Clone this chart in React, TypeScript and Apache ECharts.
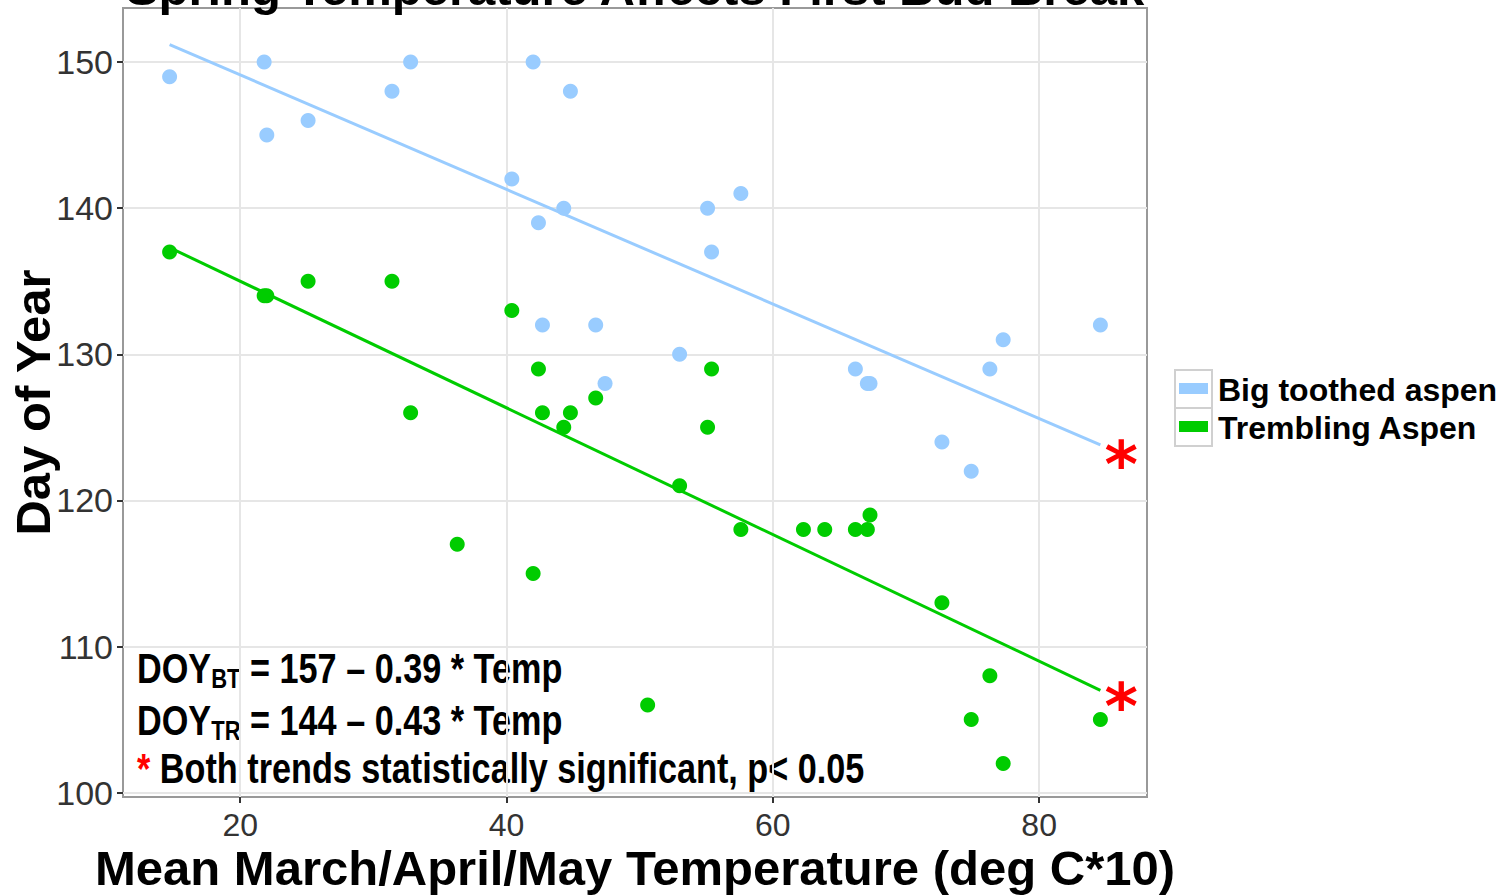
import React, { useEffect, useRef } from 'react';
import * as echarts from 'echarts';

const TITLE = 'Spring Temperature Affects First Bud Break';
const X_NAME = 'Mean March/April/May Temperature (deg C*10)';
const Y_NAME = 'Day of Year';
const SERIES_NAMES = ['Big toothed aspen', 'Trembling Aspen'];
const COLORS = ['#99CCFF', '#00CC00'];
const X_TICKS = [20, 40, 60, 80];
const Y_TICKS = [100, 110, 120, 130, 140, 150];

const bigX = [14.7, 21.8, 22.0, 25.1, 31.4, 32.8, 40.4, 42.0, 42.4, 42.7, 44.3, 44.8, 46.7, 47.4, 53.0, 55.1, 55.4, 57.6, 66.2, 67.1, 67.3, 72.7, 74.9, 76.3, 77.3, 84.6];
const bigY = [149, 150, 145, 146, 148, 150, 142, 150, 139, 132, 140, 148, 132, 128, 130, 140, 137, 141, 129, 128, 128, 124, 122, 129, 131, 132];
const trX = [14.7, 21.8, 22.0, 25.1, 31.4, 32.8, 36.3, 40.4, 42.0, 42.4, 42.7, 44.3, 44.8, 46.7, 50.6, 53.0, 55.1, 55.4, 57.6, 62.3, 63.9, 66.2, 67.1, 67.3, 72.7, 74.9, 76.3, 77.3, 84.6];
const trY = [137, 134, 134, 135, 135, 126, 117, 133, 115, 129, 126, 125, 126, 127, 106, 121, 125, 129, 118, 118, 118, 118, 118, 119, 113, 105, 108, 102, 105];

const bigTrendX = [14.7, 84.6];
const bigTrendY = [151.2, 123.8];
const trTrendX = [14.7, 84.6];
const trTrendY = [137.3, 107.0];

const EQ_BT = ['DOY', 'BT', ' = 157 \u2013 0.39 * Temp'];
const EQ_TR = ['DOY', 'TR', ' = 144 \u2013 0.43 * Temp'];
const NOTE_STAR = '*';
const NOTE = ' Both trends statistically significant, p< 0.05';

const ANN_FAMILY = '"Liberation Sans", Arial, sans-serif';
const MAIN_FAMILY = '"Liberation Sans", Arial, sans-serif';

function measure(text: string, font: string): number {
  const ctx = document.createElement('canvas').getContext('2d');
  if (!ctx) return text.length * 20;
  ctx.font = font;
  return ctx.measureText(text).width;
}

function zip(xs: number[], ys: number[]) {
  return xs.map((x, i) => [x, ys[i]]);
}

const MAIN_SIZE = 42;
const SUB_SIZE = 27;
const mainFont = `bold ${MAIN_SIZE}px ${ANN_FAMILY}`;
const subFont = `bold ${SUB_SIZE}px ${ANN_FAMILY}`;

function txt(text: string, font: string, fill: string, x: number, y: number, sx: number) {
  return { type: 'text', x, y, scaleX: sx, style: { text, font, fill, verticalAlign: 'middle', align: 'left' } };
}

function equationLine(parts: string[], x0: number, yc: number, sx: number) {
  const w0 = measure(parts[0], mainFont) * sx;
  const w1 = measure(parts[1], subFont) * sx;
  return [
    txt(parts[0], mainFont, '#000', x0, yc, sx),
    txt(parts[1], subFont, '#000', x0 + w0, yc + 11, sx),
    txt(parts[2], mainFont, '#000', x0 + w0 + w1, yc, sx),
  ];
}

export default function App() {
  const ref = useRef<HTMLDivElement>(null);
  useEffect(() => {
    if (!ref.current) return;
    const chart = echarts.init(ref.current, null, { renderer: 'svg' });
    const noteW = measure(NOTE_STAR, mainFont) + measure(NOTE, mainFont);
    const sx = 728 / noteW;
    const starW = measure(NOTE_STAR, mainFont) * sx;
    const legendFont = `bold 32px ${MAIN_FAMILY}`;

    const graphics: any[] = [
      { type: 'text', x: 635, y: 12, style: { text: TITLE, font: `bold 49px ${MAIN_FAMILY}`, fill: '#000', align: 'center', verticalAlign: 'bottom' } },
      ...equationLine(EQ_BT, 137, 668, sx),
      ...equationLine(EQ_TR, 137, 720, sx),
      txt(NOTE_STAR, mainFont, '#FF0000', 137, 768, sx),
      txt(NOTE, mainFont, '#000', 137 + starW, 768, sx),
    ];
    SERIES_NAMES.forEach((name, i) => {
      const top = 370 + i * 38;
      graphics.push(
        { type: 'rect', shape: { x: 1175, y: top, width: 37, height: 38 }, style: { fill: '#fff', stroke: '#D0D0D0', lineWidth: 2 } },
        { type: 'rect', shape: { x: 1179, y: top + 13, width: 29, height: 11 }, style: { fill: COLORS[i] } },
        { type: 'text', x: 1218, y: top + 20, style: { text: name, font: legendFont, fill: '#000', verticalAlign: 'middle', align: 'left' } }
      );
    });

    const starLabel = (dy: number) => ({
      show: true,
      formatter: '*',
      color: '#FF0000',
      fontSize: 64,
      fontWeight: 'bold',
      fontFamily: '"DejaVu Sans", sans-serif',
      distance: 4,
      offset: [0, dy],
    });

    chart.setOption({
      animation: false,
      grid: { left: 123, top: 8, width: 1024, height: 789, outerBoundsMode: 'none', containLabel: false, show: true, borderColor: '#999999', borderWidth: 2, backgroundColor: '#fff' },
      xAxis: {
        type: 'value',
        min: 11.2,
        max: 88.1,
        axisLine: { show: false },
        axisTick: { show: true, length: 6, lineStyle: { color: '#333', width: 2 }, customValues: X_TICKS },
        axisLabel: { customValues: X_TICKS, color: '#333', fontSize: 32, lineHeight: 30, fontFamily: MAIN_FAMILY, margin: 13 },
        splitLine: { show: true, lineStyle: { color: '#E6E6E6', width: 2 } },
        name: X_NAME,
        nameLocation: 'middle',
        nameGap: 71,
        nameMoveOverlap: false,
        nameTextStyle: { fontSize: 49, lineHeight: 38, fontWeight: 'bold', color: '#000', fontFamily: MAIN_FAMILY, verticalAlign: 'middle' },
      },
      yAxis: {
        type: 'value',
        min: 99.7,
        max: 153.7,
        axisLine: { show: false },
        axisTick: { show: true, length: 6, lineStyle: { color: '#333', width: 2 }, customValues: Y_TICKS },
        axisLabel: { customValues: Y_TICKS, color: '#333', fontSize: 34, fontFamily: MAIN_FAMILY, margin: 10 },
        splitLine: { show: true, lineStyle: { color: '#E6E6E6', width: 2 } },
        name: Y_NAME,
        nameLocation: 'middle',
        nameGap: 90,
        nameMoveOverlap: false,
        nameRotate: 90,
        nameTextStyle: { fontSize: 49, fontWeight: 'bold', color: '#000', fontFamily: MAIN_FAMILY, verticalAlign: 'middle' },
      },
      series: [
        { name: SERIES_NAMES[0], type: 'scatter', data: zip(bigX, bigY), symbolSize: 15, itemStyle: { color: COLORS[0], opacity: 1 }, z: 2 },
        { name: SERIES_NAMES[1], type: 'scatter', data: zip(trX, trY), symbolSize: 15, itemStyle: { color: COLORS[1], opacity: 1 }, z: 2 },
        { name: SERIES_NAMES[0] + ' trend', type: 'line', data: zip(bigTrendX, bigTrendY), showSymbol: false, symbol: 'none', lineStyle: { color: COLORS[0], width: 3 }, z: 3, endLabel: starLabel(20) },
        { name: SERIES_NAMES[1] + ' trend', type: 'line', data: zip(trTrendX, trTrendY), showSymbol: false, symbol: 'none', lineStyle: { color: COLORS[1], width: 3 }, z: 3, endLabel: starLabel(17) },
      ],
      graphic: graphics,
    });
    return () => chart.dispose();
  }, []);
  return <div ref={ref} style={{ position: 'absolute', left: 0, top: 0, width: 1510, height: 895 }} />;
}
